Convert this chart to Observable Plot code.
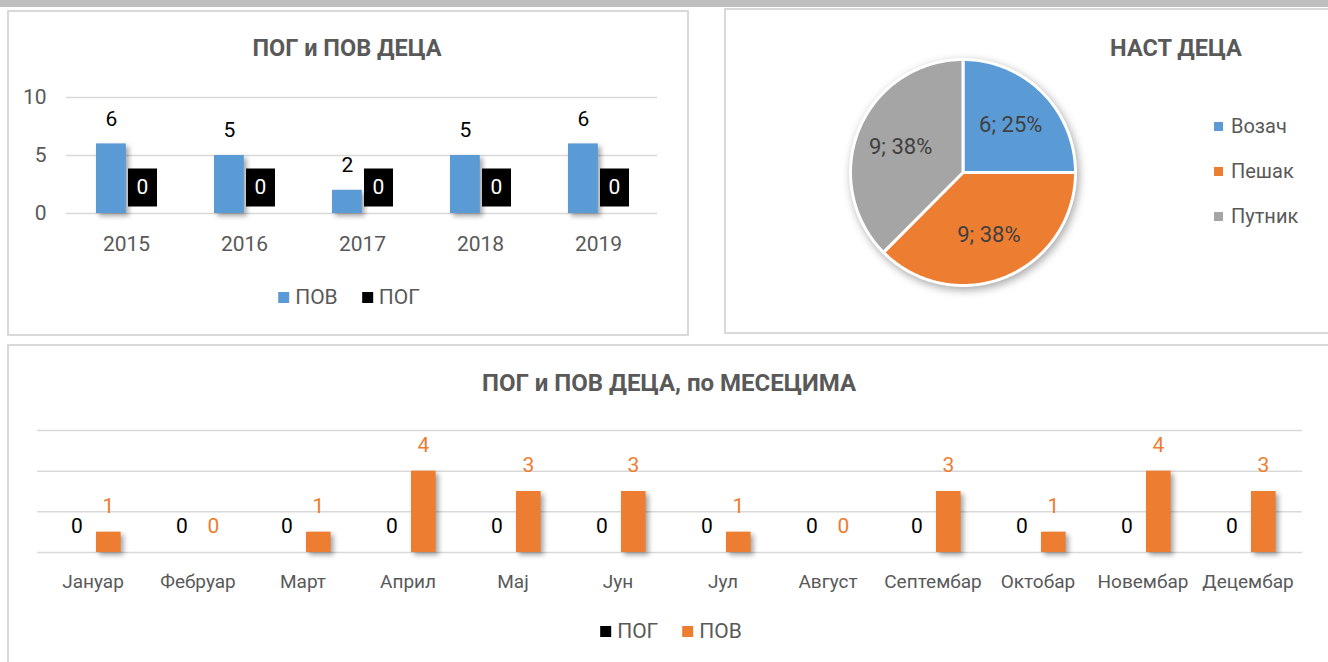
<!DOCTYPE html>
<html><head><meta charset="utf-8">
<script src="https://cdn.jsdelivr.net/npm/d3@7"></script>
<script src="https://cdn.jsdelivr.net/npm/@observablehq/plot@0.6"></script>
<style>
body{margin:0;background:#fff;font-family:Roboto,sans-serif;}
#page{position:relative;width:1328px;height:662px;overflow:hidden;background:#fff;}
.band{position:absolute;left:0;top:0;width:1328px;height:7px;background:#bfbfbf;}
.panel{position:absolute;border:2px solid #d9d9d9;box-sizing:border-box;background:#fff;}
.title{position:absolute;font-weight:bold;font-size:23.5px;color:#595959;white-space:nowrap;transform:translate(-50%,-50%);}
.legend{position:absolute;display:flex;gap:24px;transform:translate(-50%,-50%);font-size:21px;color:#595959;white-space:nowrap;}
.legend .item{display:flex;align-items:center;gap:6px;}
.vlegend{position:absolute;font-size:20px;color:#595959;white-space:nowrap;}
.vlegend .item{position:absolute;display:flex;align-items:center;gap:8px;transform:translateY(-50%);}
.sw{display:inline-block;width:11px;height:11px;}
svg.chart{position:absolute;}
svg.chart g[aria-label="bar"]{filter:drop-shadow(3px 3px 2.5px rgba(0,0,0,0.35));}
svg.pie g[aria-label="line"]{filter:drop-shadow(2px 3px 4px rgba(0,0,0,0.35));}
</style></head>
<body>
<div id="page">
  <div class="band"></div>
  <div class="panel" style="left:7px;top:10px;width:682px;height:326px"></div>
  <div class="panel" style="left:724px;top:8px;width:640px;height:326px"></div>
  <div class="panel" style="left:7px;top:344px;width:1340px;height:340px"></div>
  <div class="title" style="left:347px;top:48px">ПОГ и ПОВ ДЕЦА</div>
  <div class="title" style="left:1176px;top:48px">НАСТ ДЕЦА</div>
  <div class="title" style="left:669px;top:383px;font-size:24px">ПОГ и ПОВ ДЕЦА, по МЕСЕЦИМА</div>
</div>
<script>
// ---------- data ----------
const years = ["2015", "2016", "2017", "2018", "2019"];
const povYear = [6, 5, 2, 5, 6];
const pogYear = [0, 0, 0, 0, 0];
const yearTicks = [0, 5, 10];
const yearSeries = ["ПОВ", "ПОГ"];

const pieNames = ["Возач", "Пешак", "Путник"];
const pieValues = [6, 9, 9];

const months = ["Јануар", "Фебруар", "Март", "Април", "Мај", "Јун", "Јул", "Август", "Септембар", "Октобар", "Новембар", "Децембар"];
const pogMonth = [0, 0, 0, 0, 0, 0, 0, 0, 0, 0, 0, 0];
const povMonth = [1, 0, 1, 4, 3, 3, 1, 0, 3, 1, 4, 3];
const monthTicks = [0, 2, 4, 6];
const monthSeries = ["ПОГ", "ПОВ"];

// ---------- styles ----------
const BLUE = "#5b9bd5", ORANGE = "#ed7d31", GRAY = "#a5a5a5", BLACK = "#000000";
const GRID = "#d9d9d9";
const page = document.getElementById("page");

function place(svg, left, top, cls) {
  svg.classList.add("chart");
  if (cls) svg.classList.add(cls);
  svg.style.left = left + "px";
  svg.style.top = top + "px";
  page.appendChild(svg);
}

function hLegend(items, cx, cy) {
  const d = document.createElement("div");
  d.className = "legend";
  d.style.left = cx + "px"; d.style.top = cy + "px";
  for (const [name, color] of items) {
    const it = document.createElement("div"); it.className = "item";
    const sw = document.createElement("span"); sw.className = "sw"; sw.style.background = color;
    const t = document.createElement("span"); t.textContent = name;
    it.appendChild(sw); it.appendChild(t); d.appendChild(it);
  }
  page.appendChild(d);
}

// ---------- panel 1: yearly bars ----------
const povY = years.map((y, i) => ({year: y, value: povYear[i]}));
const pogY = years.map((y, i) => ({year: y, value: pogYear[i]}));
const labelBox = {draw(ctx) { ctx.moveTo(-14.5, -19); ctx.lineTo(14.5, -19); ctx.lineTo(14.5, 19); ctx.lineTo(-14.5, 19); ctx.closePath(); }};

const p1 = Plot.plot({
  width: 689, height: 200,
  marginLeft: 66, marginRight: 32, marginTop: 17, marginBottom: 67,
  style: {fontFamily: "Roboto, sans-serif", fontSize: "21px", color: "#595959", background: "transparent", overflow: "visible"},
  x: {type: "band", domain: years, padding: 0, tickSize: 0, tickPadding: 23, label: null},
  y: {domain: [0, 10], ticks: yearTicks, tickSize: 0, tickPadding: 20, label: null},
  marks: [
    Plot.ruleY(yearTicks, {stroke: GRID, strokeWidth: 1.5}),
    Plot.barY(povY, {x: "year", y: "value", fill: BLUE, insetLeft: 29, insetRight: 59.2}),
    Plot.barY(pogY, {x: "year", y: "value", fill: BLACK, insetLeft: 60.2, insetRight: 29}),
    Plot.text(povY, {x: "year", y: "value", text: d => String(d.value), dx: -15, dy: -25, fill: "#000", fontSize: 21}),
    Plot.dot(pogY, {x: "year", y: "value", symbol: labelBox, fill: BLACK, stroke: null, dx: 16, dy: -26}),
    Plot.text(pogY, {x: "year", y: "value", text: d => String(d.value), dx: 16, dy: -26, fill: "#fff", fontSize: 21})
  ]
});
place(p1, 0, 80);
hLegend(yearSeries.map((s, i) => [s, [BLUE, BLACK][i]]), 349, 297);

// ---------- panel 2: pie ----------
const total = d3.sum(pieValues);
const piePts = [];
const pieLabels = [];
let acc = 0;
pieValues.forEach((v, i) => {
  const a0 = acc / total * 2 * Math.PI;
  acc += v;
  const a1 = acc / total * 2 * Math.PI;
  piePts.push({name: pieNames[i], x: 0, y: 0});
  const n = Math.max(2, Math.ceil((a1 - a0) / (Math.PI / 180)));
  for (let k = 0; k <= n; k++) {
    const a = a0 + (a1 - a0) * k / n;
    piePts.push({name: pieNames[i], x: Math.sin(a), y: Math.cos(a)});
  }
  const m = (a0 + a1) / 2;
  pieLabels.push({name: pieNames[i], x: 0.6 * Math.sin(m), y: 0.6 * Math.cos(m), text: `${v}; ${Math.round(v / total * 100)}%`});
});

const p2 = Plot.plot({
  width: 604, height: 326,
  marginLeft: 126, marginRight: 253, marginTop: 51, marginBottom: 49,
  style: {fontFamily: "Roboto, sans-serif", background: "transparent", overflow: "visible"},
  x: {domain: [-1, 1], axis: null},
  y: {domain: [-1, 1], axis: null},
  color: {domain: pieNames, range: [BLUE, ORANGE, GRAY]},
  marks: [
    Plot.line(piePts, {x: "x", y: "y", z: "name", fill: "name", stroke: "#fff", strokeWidth: 3, curve: "linear-closed"}),
    Plot.text(pieLabels, {x: "x", y: "y", text: "text", fill: "#404040", fontSize: 22})
  ]
});
place(p2, 724, 8, "pie");

const vl = document.createElement("div");
vl.className = "vlegend";
vl.style.left = "1214px"; vl.style.top = "0px";
pieNames.forEach((n, i) => {
  const it = document.createElement("div"); it.className = "item";
  it.style.top = (126 + 45 * i) + "px";
  const sw = document.createElement("span"); sw.className = "sw"; sw.style.width = "9px"; sw.style.height = "9px";
  sw.style.background = [BLUE, ORANGE, GRAY][i];
  const t = document.createElement("span"); t.textContent = n;
  it.appendChild(sw); it.appendChild(t); vl.appendChild(it);
});
page.appendChild(vl);

// ---------- panel 3: monthly bars ----------
const pogM = months.map((m, i) => ({month: m, value: pogMonth[i]}));
const povM = months.map((m, i) => ({month: m, value: povMonth[i]}));

const p3 = Plot.plot({
  width: 1328, height: 200,
  marginLeft: 37, marginRight: 26, marginTop: 30, marginBottom: 48,
  style: {fontFamily: "Roboto, sans-serif", fontSize: "19px", color: "#595959", background: "transparent", overflow: "visible"},
  x: {type: "band", domain: months, padding: 0, tickSize: 0, tickPadding: 22, label: null},
  y: {domain: [0, 6], axis: null},
  marks: [
    Plot.ruleY(monthTicks, {stroke: GRID, strokeWidth: 1.5}),
    Plot.barY(pogM, {x: "month", y: "value", fill: BLACK, insetLeft: 24, insetRight: 56.4}),
    Plot.barY(povM, {x: "month", y: "value", fill: ORANGE, insetLeft: 56, insetRight: 24.4}),
    Plot.text(pogM, {x: "month", y: "value", text: d => String(d.value), dx: -16, dy: -26, fill: "#000", fontSize: 21}),
    Plot.text(povM, {x: "month", y: "value", text: d => String(d.value), dx: 15.5, dy: -26, fill: ORANGE, fontSize: 21})
  ]
});
place(p3, 0, 400);
hLegend(monthSeries.map((s, i) => [s, [BLACK, ORANGE][i]]), 671, 631);
</script>
</body></html>
